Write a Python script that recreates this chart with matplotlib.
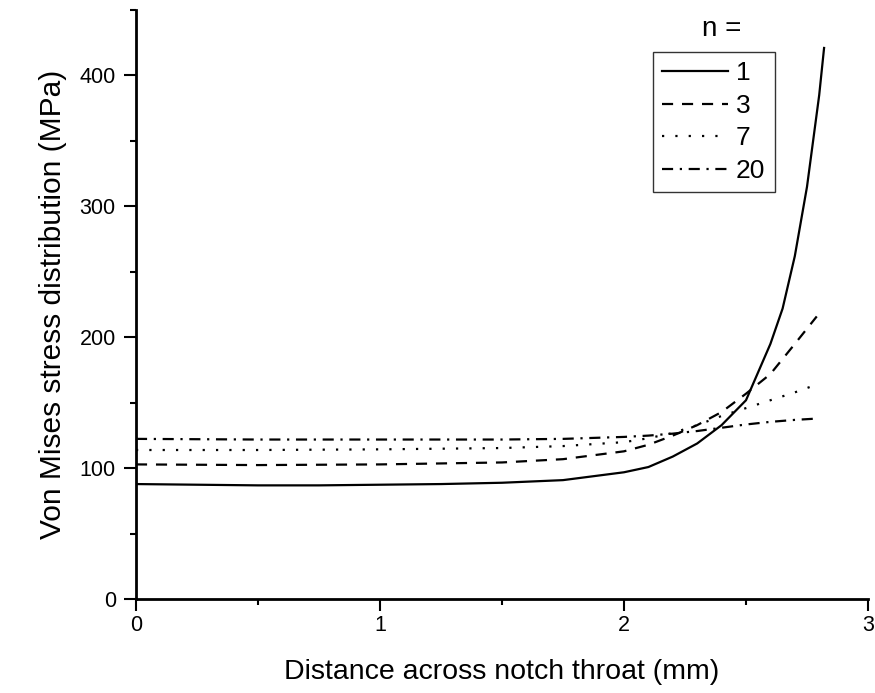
import matplotlib
matplotlib.use("Agg")
from matplotlib import pyplot as plt
from matplotlib.ticker import MultipleLocator

plt.rcParams['font.family'] = ['Liberation Sans', 'DejaVu Sans']

# distance across notch throat (mm) and von Mises stress (MPa) for each n
x_n1 = [0, 0.25, 0.5, 0.75, 1.0, 1.25, 1.5, 1.75, 2.0, 2.1, 2.2, 2.3, 2.4, 2.5,
        2.6, 2.65, 2.7, 2.75, 2.8, 2.82]
s_n1 = [88, 87.5, 87, 87, 87.5, 88, 89, 91, 97, 101, 109, 119, 133, 152,
        195, 222, 262, 315, 385, 421]

x_n = [0, 0.5, 1.0, 1.5, 1.75, 2.0, 2.1, 2.2, 2.3, 2.4, 2.5, 2.6, 2.7, 2.79]
s_n3 = [103, 102.5, 103, 104.5, 107, 113, 118, 125, 133, 143, 157, 172, 195, 216]
s_n7 = [114, 114, 114.5, 115.5, 117, 120, 123, 127, 133, 140, 146, 152, 158, 164]
s_n20 = [122.5, 122, 122, 122, 122.5, 124, 125, 126.5, 128.5, 131, 133.5, 135.5, 137, 138]

fig = plt.figure(figsize=(8.75, 6.93), dpi=100)
ax = fig.add_axes([0.1554, 0.1352, 0.8366, 0.8504])

ax.plot(x_n1, s_n1, color='black', lw=1.6, linestyle='-', label='1')
ax.plot(x_n, s_n3, color='black', lw=1.6, linestyle=(0, (5, 4)), label='3')
ax.plot(x_n, s_n7, color='black', lw=1.6, linestyle=(0, (1, 5)), label='7')
ax.plot(x_n, s_n20, color='black', lw=1.6, linestyle=(0, (5, 3, 1, 3)), label='20')

ax.set_xlim(0, 3)
ax.set_ylim(0, 450)
ax.xaxis.set_major_locator(MultipleLocator(1))
ax.xaxis.set_minor_locator(MultipleLocator(0.5))
ax.yaxis.set_major_locator(MultipleLocator(100))
ax.yaxis.set_minor_locator(MultipleLocator(50))

for side in ['top', 'right']:
    ax.spines[side].set_visible(False)
for side in ['left', 'bottom']:
    ax.spines[side].set_linewidth(2)

ax.tick_params(which='major', direction='out', length=8.5, width=1.5,
               labelsize=15.5, colors='black')
ax.tick_params(axis='y', which='major', pad=6)
ax.tick_params(axis='x', which='major', pad=3)
ax.tick_params(which='minor', direction='out', length=4, width=1.5)

ax.set_xlabel('Distance across notch throat (mm)', fontsize=20.5, labelpad=16)
ax.set_ylabel('Von Mises stress distribution (MPa)', fontsize=21.5, labelpad=9)

leg = ax.legend(loc='upper left', bbox_to_anchor=(0.706, 0.929), frameon=True,
                fancybox=False, fontsize=19, handlelength=2.5, handletextpad=0.3,
                borderpad=0.35, labelspacing=0.33, borderaxespad=0)
leg.get_frame().set_edgecolor('black')
leg.get_frame().set_linewidth(1.0)
ax.text(0.7995, 0.968, 'n =', transform=ax.transAxes, fontsize=20,
        ha='center', va='center')

fig.savefig('out.png', dpi=100)
